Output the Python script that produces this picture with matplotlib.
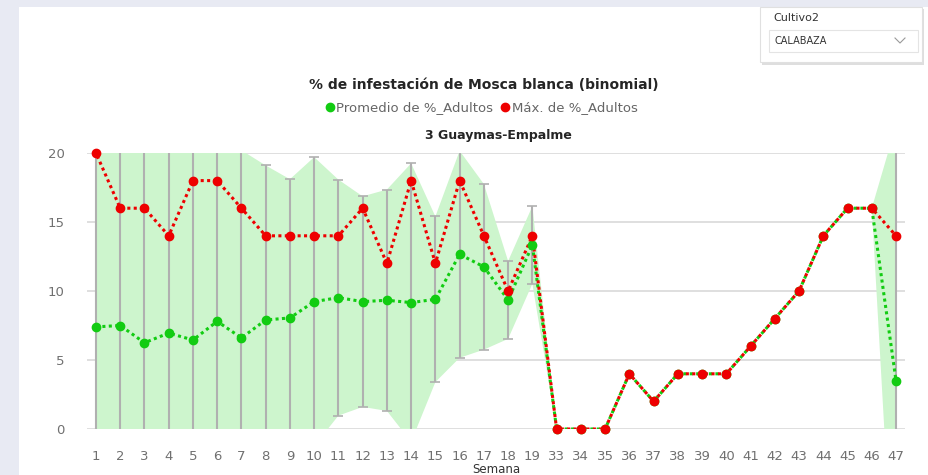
import numpy as np
import matplotlib
matplotlib.use("Agg")
import matplotlib.pyplot as plt
from matplotlib.patches import Rectangle
from matplotlib.lines import Line2D

# semanas (categorias del eje x)
semanas = ["1", "2", "3", "4", "5", "6", "7", "8", "9", "10", "11", "12", "13", "14",
           "15", "16", "17", "18", "19", "33", "34", "35", "36", "37", "38", "39", "40",
           "41", "42", "43", "44", "45", "46", "47"]
promedio = [7.4, 7.5, 6.25, 6.95, 6.45, 7.8, 6.6, 7.9, 8.05, 9.23, 9.52, 9.23, 9.33, 9.16,
            9.4, 12.66, 11.75, 9.35, 13.33, 0, 0, 0, 4, 2, 4, 4, 4,
            6, 8, 10, 14, 16, 16, 3.5]
maximo = [20, 16, 16, 14, 18, 18, 16, 14, 14, 14, 14, 16, 12, 18,
          12, 18, 14, 10, 14, 0, 0, 0, 4, 2, 4, 4, 4,
          6, 8, 10, 14, 16, 16, 14]
# semiancho del intervalo (error bars / banda)
error = [13.5, 14, 15, 14, 14.5, 13, 13.6, 11.2, 10.05, 10.47, 8.55, 7.63, 8.02, 10.09,
         6.0, 7.5, 6.0, 2.82, 2.81, 0, 0, 0, 0, 0, 0, 0, 0,
         0, 0, 0, 0, 0, 0, 18.5]

verde = "#12cc12"
rojo = "#ee0000"
W, H = 929, 475

fig = plt.figure(figsize=(W / 100, H / 100), dpi=100)
fig.patch.set_facecolor("#e8eaf3")
fig.patches.append(Rectangle((19 / W, 0), 1, 1 - 7 / H, transform=fig.transFigure,
                             facecolor="white", edgecolor="none", zorder=-5))

ax = fig.add_axes([87 / W, 46 / H, 818 / W, 276 / H])
ax.set_facecolor("none")

x = np.arange(len(semanas))
prom = np.array(promedio)
err = np.array(error)

ax.fill_between(x, prom - err, prom + err, color="#cdf5cd", lw=0, zorder=1)
m = err > 0
ax.errorbar(x[m], prom[m], yerr=err[m], fmt="none", ecolor="#b0b0b0", elinewidth=1.5,
            capsize=3.5, capthick=1.2, zorder=2)

ax.plot(x, prom, color=verde, lw=2.2, ls=(0, (1, 1.1)), zorder=3)
ax.plot(x, maximo, color=rojo, lw=2.2, ls=(1.05, (1, 1.1)), zorder=4)
ax.plot(x, prom, "o", color=verde, ms=6, zorder=5, clip_on=False)
ax.plot(x, maximo, "o", color=rojo, ms=6, zorder=6, clip_on=False)

ax.set_xlim(-0.37, 33.37)
ax.set_ylim(0, 20)
ax.set_yticks([0, 5, 10, 15, 20])
ax.set_xticks(x)
ax.set_xticklabels(semanas)
ax.yaxis.grid(True, color="#dcdcdc", lw=1.3, zorder=0)
ax.set_axisbelow(True)
for s in ax.spines.values():
    s.set_visible(False)
ax.tick_params(axis="x", length=0, pad=15, labelsize=9.5, labelcolor="#707070")
ax.tick_params(axis="y", length=0, pad=16, labelsize=9.5, labelcolor="#707070")
ax.set_xlabel("Semana", fontsize=8.5, color="#333333", labelpad=0)

fig.text(484 / W, 1 - 85 / H, "% de infestación de Mosca blanca (binomial)",
         ha="center", va="center", fontsize=10, fontweight="bold", color="#252525")
fig.text(498 / W, 1 - 135 / H, "3 Guaymas-Empalme", ha="center", va="center",
         fontsize=9, fontweight="bold", color="#252525")

handles = [Line2D([], [], marker="o", ls="none", color=verde, ms=6),
           Line2D([], [], marker="o", ls="none", color=rojo, ms=6)]
fig.legend(handles, ["Promedio de %_Adultos", "Máx. de %_Adultos"], loc="center",
           bbox_to_anchor=(481 / W, 1 - 108 / H), ncol=2, frameon=False,
           handletextpad=0.1, columnspacing=0.5, handlelength=0.8,
           labelcolor="#666666", prop={"size": 9.5})

# slicer Cultivo2
fig.patches.append(Rectangle((762 / W, 1 - 65 / H), 162 / W, 56 / H, transform=fig.transFigure,
                             facecolor="#c8c8c8", edgecolor="none", alpha=0.6, zorder=1))
fig.patches.append(Rectangle((760 / W, 1 - 62 / H), 162 / W, 55 / H, transform=fig.transFigure,
                             facecolor="white", edgecolor="#e0e0e0", lw=0.8, zorder=2))
fig.patches.append(Rectangle((769 / W, 1 - 52 / H), 149 / W, 22 / H, transform=fig.transFigure,
                             facecolor="white", edgecolor="#e4e4e4", lw=0.8, zorder=3))
fig.text(773 / W, 1 - 18 / H, "Cultivo2", ha="left", va="center", fontsize=8,
         color="#333333", zorder=4)
fig.text(775 / W, 1 - 41 / H, "CALABAZA", ha="left", va="center", fontsize=7,
         color="#333333", zorder=4)
fig.lines.append(Line2D([895 / W, 900 / W, 905 / W], [1 - 38 / H, 1 - 43 / H, 1 - 38 / H],
                        transform=fig.transFigure, color="#999999", lw=0.8, zorder=4))

fig.savefig("out.png", dpi=100)
